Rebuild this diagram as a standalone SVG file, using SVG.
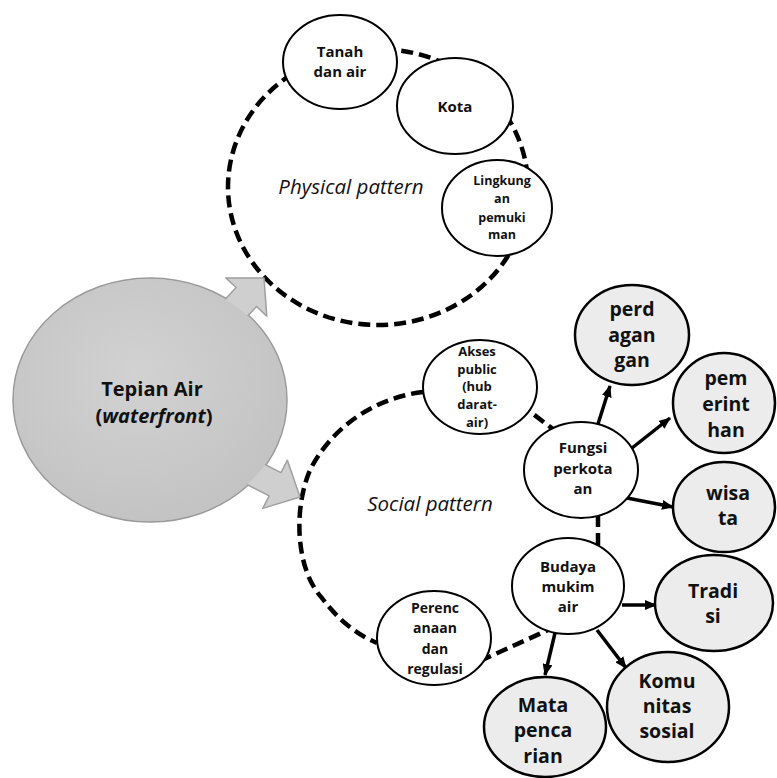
<svg xmlns="http://www.w3.org/2000/svg" width="777" height="778" viewBox="0 0 777 778">
<defs>
<radialGradient id="gBig" cx="0.45" cy="0.4" r="0.65">
<stop offset="0" stop-color="#d2d2d2"/>
<stop offset="1" stop-color="#c2c2c2"/>
</radialGradient>
<marker id="ah" viewBox="0 0 12 10" refX="11" refY="5" markerWidth="12" markerHeight="10" markerUnits="userSpaceOnUse" orient="auto">
<path d="M0,0 L12,5 L0,10 Z" fill="#000"/>
</marker>
<style>
.dash{fill:none;stroke:#000;stroke-width:4.5;stroke-dasharray:12 6;}
.arr{fill:none;stroke:#000;stroke-width:3.5;marker-end:url(#ah);}
.wn{fill:#fff;stroke:#000;stroke-width:2;}
.gn{fill:#ececec;stroke:#000;stroke-width:2.5;}
.t{font-family:"Open Sans","Liberation Sans",sans-serif;font-weight:bold;fill:#111;text-anchor:middle;}
.it{font-family:"Open Sans","Liberation Sans",sans-serif;font-style:italic;fill:#111;text-anchor:middle;font-size:20.5px;}
</style>
</defs>
<rect width="777" height="778" fill="#fff"/>

<g id="connectors">
<ellipse class="dash" cx="378" cy="187" rx="150" ry="138"/>
<path class="dash" d="M423,392 C372,398 330,430 310,470 C293,510 296,570 322,598 C337,618 355,634 377,643"/>
<line class="dash" x1="520" y1="404" x2="562" y2="436"/>
<line class="dash" x1="598" y1="515" x2="598" y2="546"/>
<line class="dash" x1="480" y1="661" x2="548" y2="630"/>
<line class="arr" x1="598" y1="424" x2="610" y2="386"/>
<line class="arr" x1="632" y1="448" x2="670" y2="418"/>
<line class="arr" x1="627" y1="498" x2="673" y2="507"/>
<line class="arr" x1="622" y1="605" x2="656" y2="605"/>
<line class="arr" x1="555" y1="633" x2="545" y2="675"/>
<line class="arr" x1="597" y1="630" x2="626" y2="668"/>
</g>

<g id="tepian-air">
<ellipse cx="150" cy="400" rx="137" ry="122" fill="url(#gBig)" stroke="#9a9a9a" stroke-width="1.5"/>
<polygon points="264,278 266.8,316.1 256.5,306.5 225.8,339.4 205.4,320.4 236.1,287.5 225.8,277.9" fill="#cfcfcf" stroke="#a0a0a0" stroke-width="1.5" stroke-linejoin="round"/>
<polygon points="300,497 262.8,508.4 269.2,495.9 229.1,475.5 240.9,452.3 281,472.7 287.4,460.2" fill="#cfcfcf" stroke="#a0a0a0" stroke-width="1.5" stroke-linejoin="round"/>
<ellipse cx="150" cy="400" rx="136" ry="121" fill="url(#gBig)"/>
<text class="t" font-size="20"><tspan x="152" y="396">Tepian Air</tspan><tspan x="154" y="423">(<tspan font-style="italic">waterfront</tspan>)</tspan></text>
</g>

<g id="physical-label"><text class="it" x="351" y="194">Physical pattern</text></g>
<g id="social-label"><text class="it" x="430" y="511">Social pattern</text></g>

<g id="tanah">
<ellipse class="wn" cx="340" cy="62" rx="57" ry="47"/>
<text class="t" font-size="15"><tspan x="340" y="57">Tanah</tspan><tspan x="340" y="77">dan air</tspan></text>
</g>
<g id="kota">
<ellipse class="wn" cx="455" cy="106" rx="58" ry="48"/>
<text class="t" font-size="15" x="455" y="112">Kota</text>
</g>
<g id="lingkungan">
<ellipse class="wn" cx="497" cy="208" rx="55" ry="48"/>
<text class="t" font-size="12.5"><tspan x="502" y="185">Lingkung</tspan><tspan x="502" y="203">an</tspan><tspan x="502" y="222">pemuki</tspan><tspan x="502" y="239">man</tspan></text>
</g>
<g id="akses">
<ellipse class="wn" cx="480" cy="387" rx="57" ry="47"/>
<text class="t" font-size="13"><tspan x="477" y="356">Akses</tspan><tspan x="477" y="374">public</tspan><tspan x="477" y="391">(hub</tspan><tspan x="477" y="409">darat-</tspan><tspan x="477" y="427">air)</tspan></text>
</g>
<g id="fungsi">
<ellipse class="wn" cx="581" cy="470" rx="57" ry="48"/>
<text class="t" font-size="15"><tspan x="583" y="453">Fungsi</tspan><tspan x="583" y="474">perkota</tspan><tspan x="583" y="494">an</tspan></text>
</g>
<g id="budaya">
<ellipse class="wn" cx="568" cy="586" rx="56" ry="48"/>
<text class="t" font-size="15"><tspan x="568" y="572">Budaya</tspan><tspan x="568" y="592">mukim</tspan><tspan x="568" y="612">air</tspan></text>
</g>
<g id="perencanaan">
<ellipse class="wn" cx="434" cy="638" rx="57" ry="47"/>
<text class="t" font-size="14"><tspan x="435" y="613">Perenc</tspan><tspan x="435" y="633">anaan</tspan><tspan x="435" y="654">dan</tspan><tspan x="435" y="674">regulasi</tspan></text>
</g>

<g id="perdagangan">
<ellipse class="gn" cx="632" cy="335" rx="57" ry="50"/>
<text class="t" font-size="19.5"><tspan x="632" y="316">perd</tspan><tspan x="632" y="342">agan</tspan><tspan x="632" y="367">gan</tspan></text>
</g>
<g id="pemerintahan">
<ellipse class="gn" cx="724" cy="403" rx="51" ry="50"/>
<text class="t" font-size="19.5"><tspan x="726" y="385">pem</tspan><tspan x="726" y="411">erint</tspan><tspan x="726" y="437">han</tspan></text>
</g>
<g id="wisata">
<ellipse class="gn" cx="724" cy="507" rx="51" ry="45"/>
<text class="t" font-size="19.5"><tspan x="728" y="500">wisa</tspan><tspan x="728" y="525">ta</tspan></text>
</g>
<g id="tradisi">
<ellipse class="gn" cx="714" cy="603" rx="59" ry="48"/>
<text class="t" font-size="19.5"><tspan x="713" y="598">Tradi</tspan><tspan x="713" y="623">si</tspan></text>
</g>
<g id="komunitas">
<ellipse class="gn" cx="668" cy="707" rx="61" ry="55"/>
<text class="t" font-size="19.5"><tspan x="667" y="688">Komu</tspan><tspan x="667" y="713">nitas</tspan><tspan x="667" y="738">sosial</tspan></text>
</g>
<g id="mata-pencarian">
<ellipse class="gn" cx="545" cy="727" rx="61" ry="50"/>
<text class="t" font-size="19.5"><tspan x="543" y="712">Mata</tspan><tspan x="543" y="737">penca</tspan><tspan x="543" y="763">rian</tspan></text>
</g>
</svg>
